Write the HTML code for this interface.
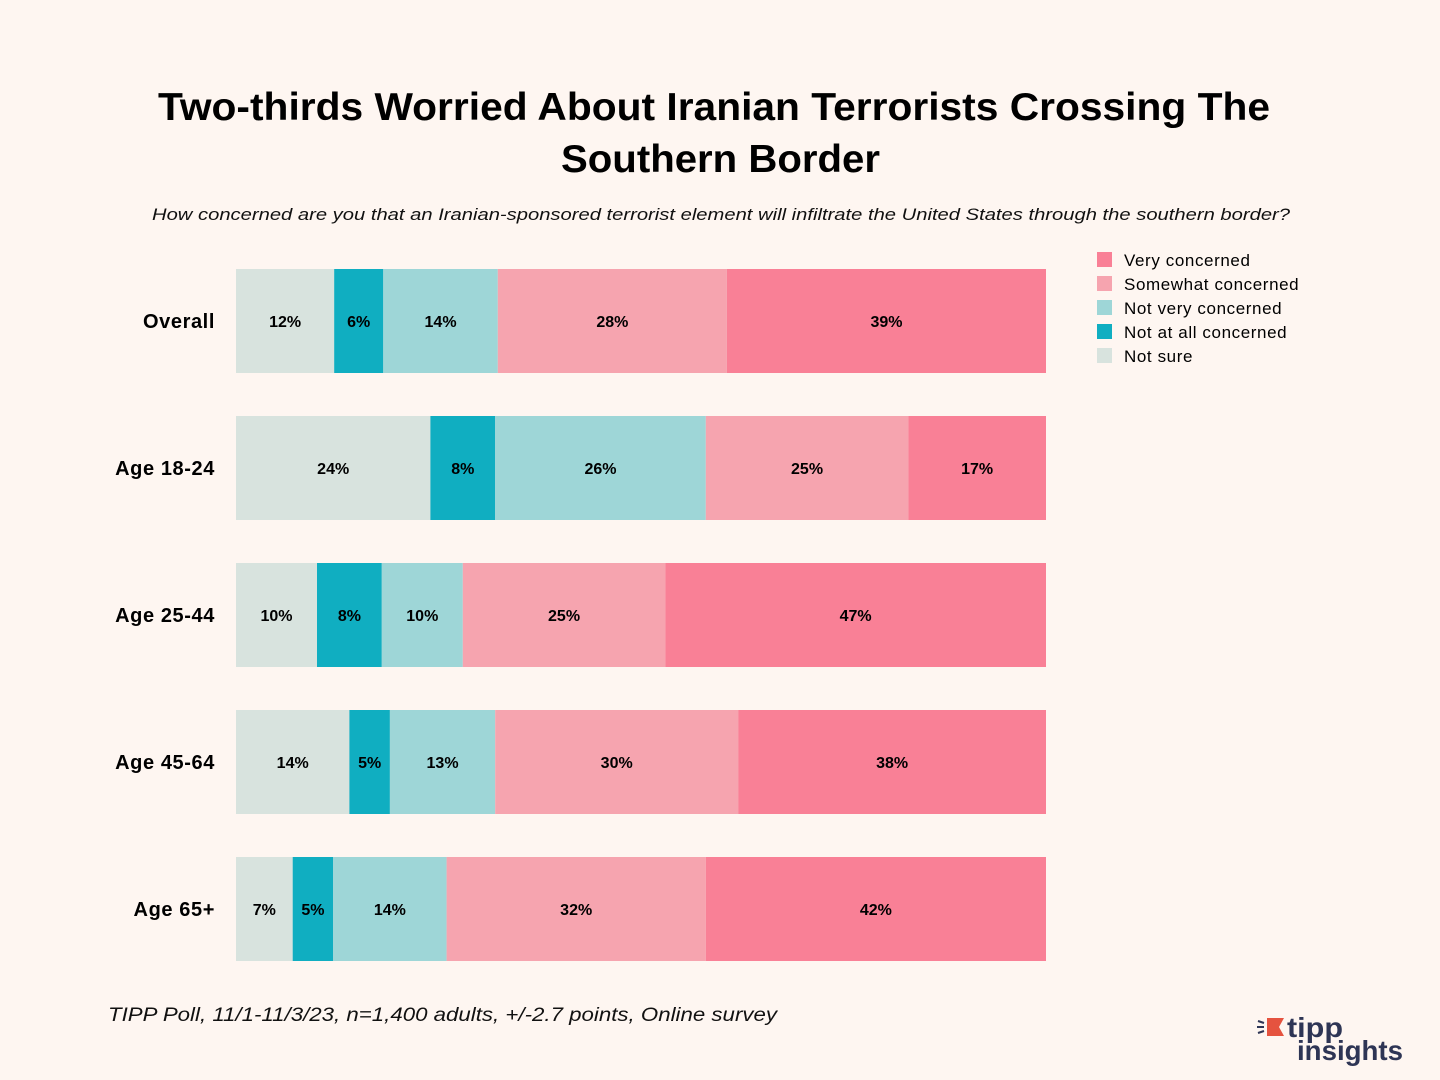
<!DOCTYPE html>
<html><head><meta charset="utf-8"><style>
body{margin:0;background:#FEF6F1;font-family:"Liberation Sans",sans-serif;}
#wrap{position:relative;width:1440px;height:1080px;overflow:hidden;background:#FEF6F1;}
</style></head><body>
<div id="wrap">
<svg id="chart" width="1440" height="1080">
<text x="158" y="120" textLength="1112" lengthAdjust="spacingAndGlyphs" font-size="39" font-weight="bold" fill="#000">Two-thirds Worried About Iranian Terrorists Crossing The</text>
<text x="561" y="172" textLength="319" lengthAdjust="spacingAndGlyphs" font-size="39" font-weight="bold" fill="#000">Southern Border</text>
<text x="152" y="220" textLength="1138" lengthAdjust="spacingAndGlyphs" font-size="17" font-style="italic" fill="#111">How concerned are you that an Iranian-sponsored terrorist element will infiltrate the United States through the southern border?</text>
<text x="108" y="1021" textLength="669" lengthAdjust="spacingAndGlyphs" font-size="19" font-style="italic" fill="#111">TIPP Poll, 11/1-11/3/23, n=1,400 adults, +/-2.7 points, Online survey</text>
<g>
<path d="M1267 1018 L1284 1018 L1279 1027 L1284 1036 L1267 1036 Z" fill="#E5533F"/>
<path d="M1258 1021 l6 2 M1257 1027 h7 M1258 1033 l6 -2" stroke="#2E3555" stroke-width="2"/>
<text x="1287" y="1037" textLength="56" lengthAdjust="spacingAndGlyphs" font-size="28" font-weight="bold" fill="#2E3555">tipp</text>
<text x="1297" y="1060" textLength="106" lengthAdjust="spacingAndGlyphs" font-size="28" font-weight="bold" fill="#2E3555">insights</text>
</g>
<g id="bars"></g>
<g id="legend"></g>
</svg>
</div>
<script>
const categories=["Overall","Age 18-24","Age 25-44","Age 45-64","Age 65+"];
const seriesNames=["Not sure","Not at all concerned","Not very concerned","Somewhat concerned","Very concerned"];
const notSure=[12,24,10,14,7];
const notAtAll=[6,8,8,5,5];
const notVery=[14,26,10,13,14];
const somewhat=[28,25,25,30,32];
const very=[39,17,47,38,42];
const series=[notSure,notAtAll,notVery,somewhat,very];
const colors=["#D8E3DE","#10AEC1","#9ED6D7","#F6A4AF","#F98096"];
const NS="http://www.w3.org/2000/svg";
const x0=236,x1=1046,rowTop=269,rowStep=147,barH=104;
function yPos(i){return rowTop+i*rowStep;}
const g=document.getElementById('bars');
categories.forEach((c,i)=>{
  const y=yPos(i);
  let total=0;series.forEach(s=>total+=s[i]);
  const xs=v=>v/total*(x1-x0);
  const lab=document.createElementNS(NS,'text');
  
  
  lab.setAttribute('x',215);lab.setAttribute('y',y+barH/2+7);
  lab.setAttribute('text-anchor','end');lab.setAttribute('font-size','20');lab.setAttribute('font-weight','bold');
  lab.setAttribute('letter-spacing','0.6');
  lab.textContent=c;g.appendChild(lab);
  let cum=0;
  series.forEach((s,k)=>{
    const v=s[i];const x=x0+xs(cum);const w=xs(v);cum+=v;
    const r=document.createElementNS(NS,'rect');
    
    
    r.setAttribute('x',x);r.setAttribute('y',y);r.setAttribute('width',w);r.setAttribute('height',barH);
    r.setAttribute('fill',colors[k]);g.appendChild(r);
    const t=document.createElementNS(NS,'text');
    
    
    t.setAttribute('x',x+w/2);t.setAttribute('y',y+barH/2+6);
    t.setAttribute('text-anchor','middle');t.setAttribute('font-size','16');t.setAttribute('font-weight','bold');
    t.textContent=v+'%';g.appendChild(t);
  });
});
const lg=document.getElementById('legend');
const legendOrder=[4,3,2,1,0];
legendOrder.forEach((k,j)=>{
  const y=252+j*24;
  const r=document.createElementNS(NS,'rect');
  
  
  r.setAttribute('x',1097);r.setAttribute('y',y);r.setAttribute('width',15);r.setAttribute('height',15);r.setAttribute('fill',colors[k]);
  lg.appendChild(r);
  const t=document.createElementNS(NS,'text');
  
  
  t.setAttribute('x',1124);t.setAttribute('y',y+14);t.setAttribute('font-size','17');
  t.setAttribute('letter-spacing','0.6');
  t.textContent=seriesNames[k];lg.appendChild(t);
});
</script>
</body></html>
